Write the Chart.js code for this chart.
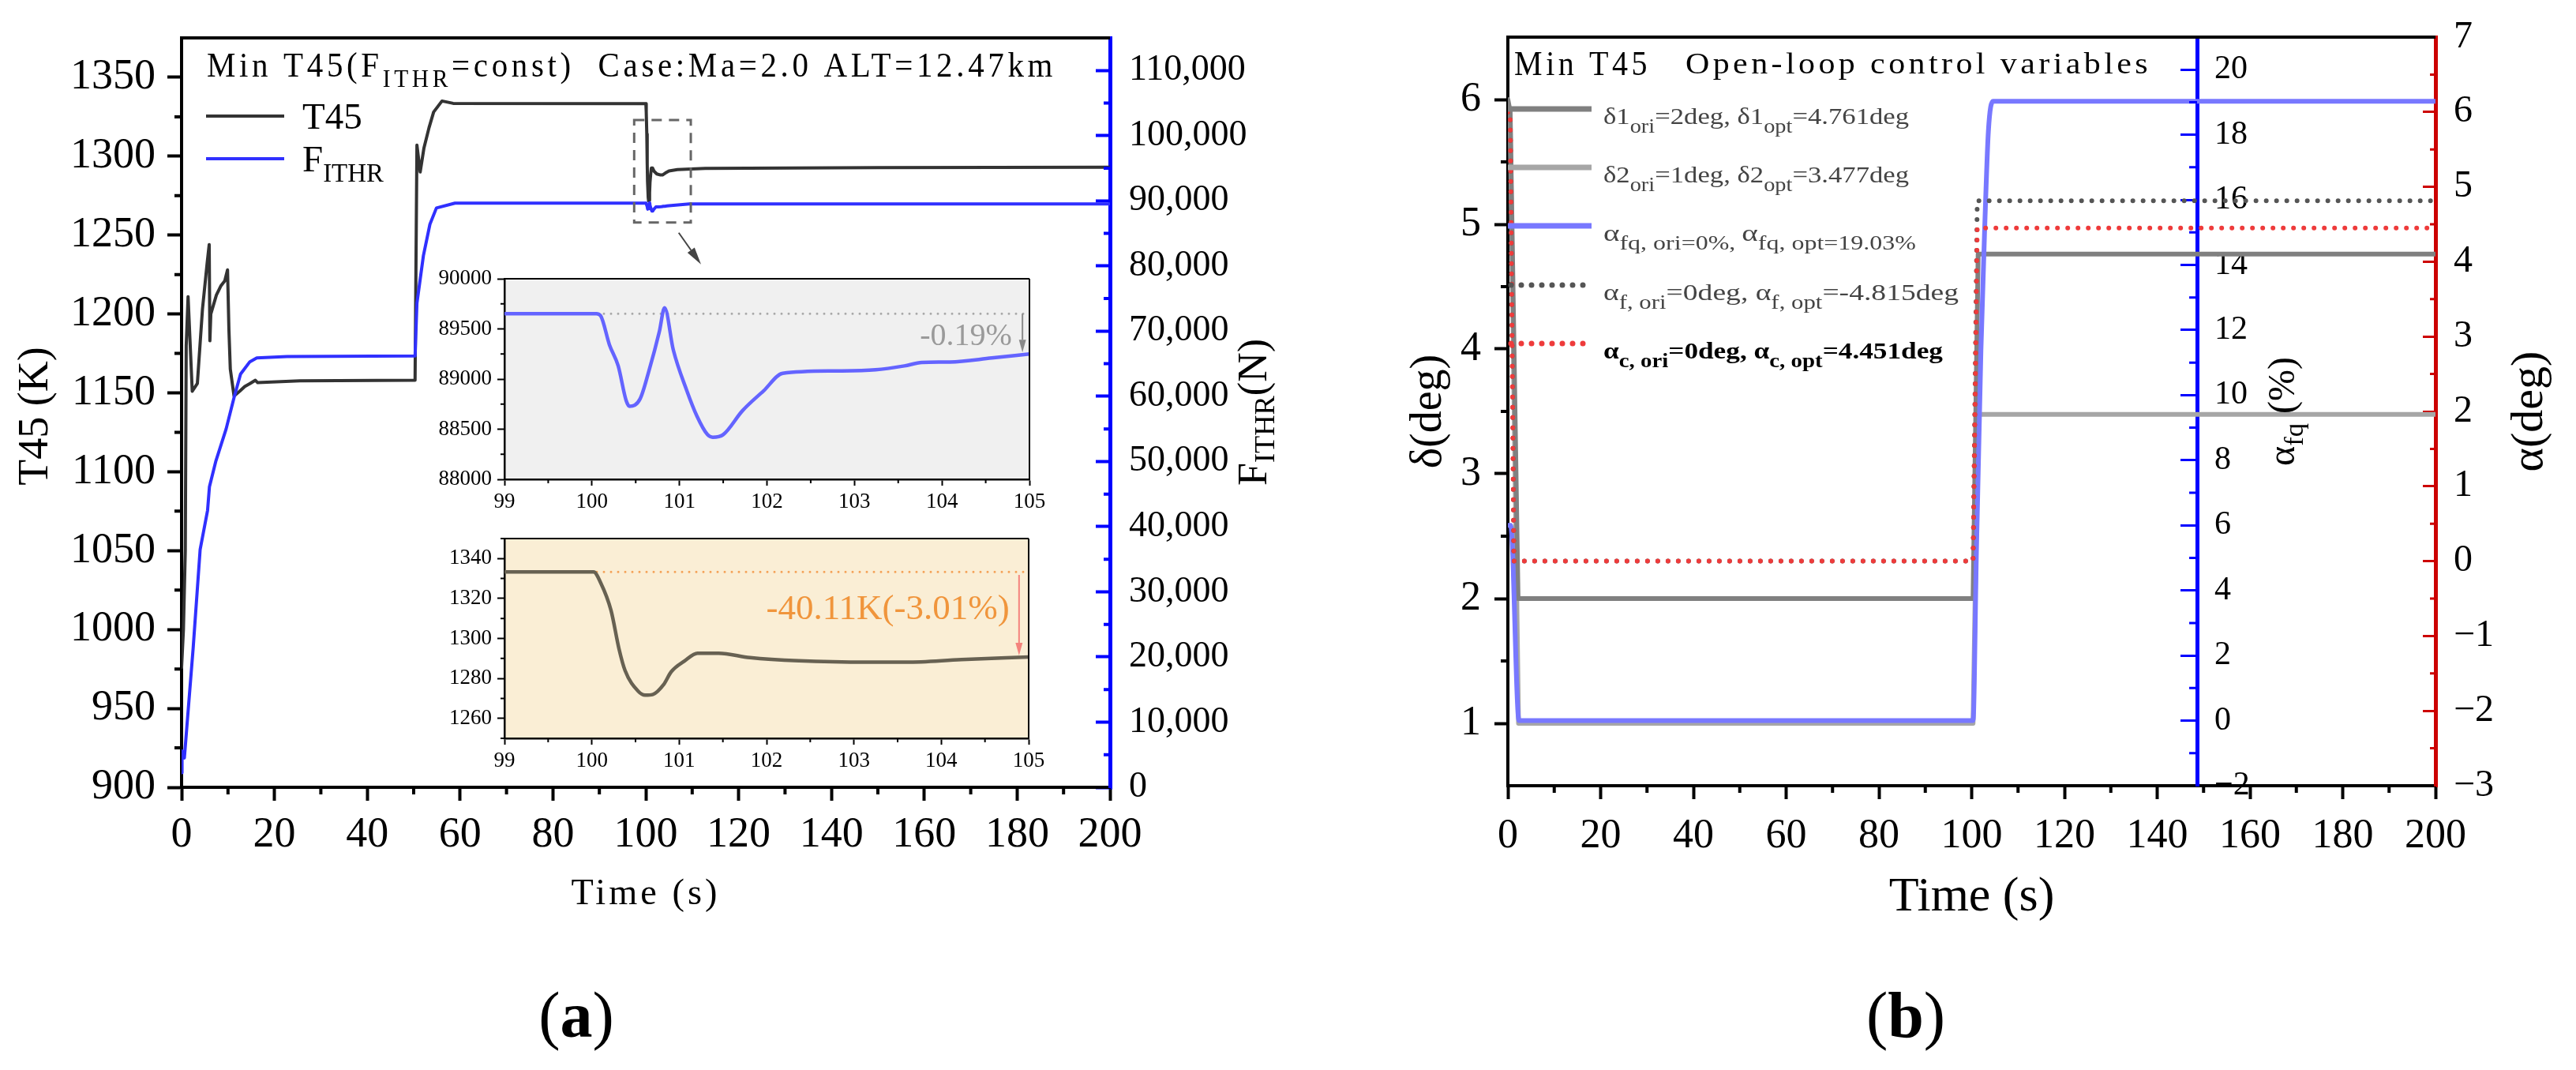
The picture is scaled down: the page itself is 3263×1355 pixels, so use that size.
<!DOCTYPE html>
<html><head><meta charset="utf-8">
<script src="https://cdn.jsdelivr.net/npm/chart.js@4.4.1/dist/chart.umd.min.js"></script>
<style>
html,body{margin:0;padding:0;background:#fff;}
#wrap{position:relative;width:3263px;height:1355px;overflow:hidden;background:#fff;}
canvas{position:absolute;display:block;}
</style></head><body>
<div id="wrap">
<canvas id="cA" width="1700" height="1355" style="left:0px;top:0px;width:1700px;height:1355px"></canvas>
<canvas id="cI1" width="800" height="340" style="left:540px;top:320px;width:800px;height:340px"></canvas>
<canvas id="cI2" width="800" height="340" style="left:540px;top:650px;width:800px;height:340px"></canvas>
<canvas id="cB" width="1563" height="1355" style="left:1700px;top:0px;width:1563px;height:1355px"></canvas>
</div>
<script>
// ================= DATA =================
// tick labels
const TIME_TICKS = [0, 20, 40, 60, 80, 100, 120, 140, 160, 180, 200];
const T45_TICKS = [900, 950, 1000, 1050, 1100, 1150, 1200, 1250, 1300, 1350];
const F_TICKS = [0, 10000, 20000, 30000, 40000, 50000, 60000, 70000, 80000, 90000, 100000, 110000];
const ZOOM_TIME_TICKS = [99, 100, 101, 102, 103, 104, 105];
const ZOOM_F_TICKS = [88000, 88500, 89000, 89500, 90000];
const ZOOM_T45_TICKS = [1260, 1280, 1300, 1320, 1340];
const DELTA_TICKS = [1, 2, 3, 4, 5, 6];
const AFQ_TICKS = [-2, 0, 2, 4, 6, 8, 10, 12, 14, 16, 18, 20];
const ALPHA_TICKS = [-3, -2, -1, 0, 1, 2, 3, 4, 5, 6, 7];

// (a) T45 main curve (K)
const t45EarlyTime = [0, 0.4, 0.8, 1.0, 1.4, 2.3, 3.4, 4.5, 5.5, 5.95, 6.1, 6.3, 7.5, 8.5, 9.3, 9.9, 10.2, 10.5, 11.3, 12.5, 13.6, 14.8, 15.9, 16.4, 25.5, 50.3, 50.7, 51.4, 52.2, 53.3, 54.3, 56.1, 58.5];
const t45EarlyVals = [976, 1000, 1050, 1180, 1211, 1151, 1156, 1203, 1232, 1244, 1183, 1200, 1212, 1218, 1221, 1228, 1190, 1165, 1148, 1151, 1154, 1156, 1158, 1156.5, 1157.7, 1158, 1307, 1290, 1305, 1318, 1328, 1335, 1333.5];
const t45LateTime = [106.8, 112.8, 150, 200];
const t45LateVals = [1291.5, 1292.3, 1292.8, 1293];

// (a) zoomed window 99-105 s
const zoomTimeT45 = [99, 100.02, 100.1, 100.22, 100.31, 100.38, 100.53, 100.61, 100.7, 100.82, 100.91, 101.06, 101.21, 101.45, 101.81, 102.37, 103.17, 103.6, 104.23, 105];
const zoomT45 = [1333.3, 1333.3, 1328, 1314, 1295, 1284, 1273.6, 1271.6, 1272, 1276.8, 1283.4, 1288.7, 1292.6, 1292.6, 1290.4, 1288.8, 1288.1, 1288.1, 1289.4, 1290.7];
const zoomTimeF = [99, 100.05, 100.1, 100.2, 100.3, 100.39, 100.43, 100.55, 100.65, 100.77, 100.83, 100.93, 101.08, 101.2, 101.32, 101.38, 101.5, 101.72, 101.96, 102.18, 102.77, 103.24, 103.57, 103.77, 104.09, 104.57, 105];
const zoomF = [89652, 89652, 89630, 89341, 89131, 88788, 88728, 88802, 89078, 89473, 89710, 89289, 88894, 88630, 88446, 88420, 88446, 88684, 88881, 89057, 89081, 89092, 89131, 89165, 89170, 89210, 89250];
const zoomFRef = 89652;      // dotted reference (N)
const zoomT45Ref = 1333.3;   // dotted reference (K)
const zoomFEnd = 89265;
const zoomT45End = 1291.5;

// (a) thrust main curve (N)
const fEarlyTime = [0, 0.1, 0.6, 2.5, 4.0, 5.6, 6.0, 7.4, 9.6, 11.3, 12.7, 14.7, 16.2, 22.7, 50.3, 50.7, 52.1, 53.5, 54.9, 58.9];
const fEarlyVals = [2250, 5570, 4500, 21400, 36500, 42500, 46100, 50100, 55000, 59800, 63400, 65300, 65900, 66100, 66200, 74300, 81600, 86400, 88900, 89650];
const fLateTime = [109.4, 200];
const fLateVals = [89520, 89520];

// (a) zoom marker box and arrow (data units)
const zoomBoxTime = [97.5, 109.7];
const zoomBoxT45 = [1258, 1323];
const zoomArrowTime = [107.1, 111.9];
const zoomArrowT45 = [1251.5, 1231.5];

// (b) open-loop control variables
const d1Time = [0, 0.5, 2.2, 100.3, 101.4, 200];
const d1Vals = [6.0, 5.9, 2.0, 2.0, 4.761, 4.761];
const d2Time = [0, 0.5, 2.3, 100.3, 101.4, 200];
const d2Vals = [5.9, 5.8, 1.0, 1.0, 3.477, 3.477];
const afqTime = [0, 0.6, 2.4, 100.3, 101.0, 102.0, 102.8, 103.6, 104.6, 200];
const afqVals = [6.0, 6.0, 0, 0, 5.0, 11.4, 15.1, 18.1, 19.03, 19.03];
const afTime = [0, 0.5, 1.3, 100.3, 101.2, 200];
const afVals = [6.0, 6.0, 0, 0, 4.815, 4.815];
const acTime = [0, 0.5, 1.3, 100.3, 101.2, 200];
const acVals = [6.0, 6.0, 0, 0, 4.451, 4.451];
const afqAxisAt = 148.6; // time value where the αfq axis sits

// ================= HELPERS =================
const SERIF = '"Liberation Serif", "Times New Roman", serif';
function pts(ts, vs) { return ts.map((t, i) => ({ x: t, y: vs[i] })); }
function setTicks(list) { return s => { s.ticks = list.map(v => ({ value: v })); }; }
function range(a, b, step) { const r = []; for (let v = a; v <= b + 1e-9; v += step) r.push(+v.toFixed(6)); return r; }
const minusFmt = v => (v < 0 ? '\u2212' + Math.abs(v) : String(v));
function fitV(w) { return s => { if (w != null) s.width = w; s.paddingTop = 0; s.paddingBottom = 0; }; }

function richText(ctx, runs, o) {
  ctx.save();
  ctx.translate(o.x, o.y);
  if (o.rot) ctx.rotate(o.rot);
  if (o.ls) { try { ctx.letterSpacing = o.ls + 'px'; } catch (e) {} }
  const subR = o.subR || 0.72;
  const subDy = (o.subDy != null ? o.subDy : 0.3) * o.size;
  const parts = runs.map(r => {
    const size = r.sub ? o.size * subR : o.size;
    const font = ((r.b || o.b) ? 'bold ' : '') + size.toFixed(1) + 'px ' + (r.fam || o.fam || SERIF);
    ctx.font = font;
    return { t: r.t, font, w: ctx.measureText(r.t).width, dy: r.sub ? subDy : 0, color: r.c || o.color || '#000' };
  });
  const total = parts.reduce((a, p) => a + p.w, 0);
  const sx = o.width ? o.width / total : 1;
  ctx.scale(sx, 1);
  let cx = o.align === 'center' ? -total / 2 : (o.align === 'right' ? -total : 0);
  ctx.textBaseline = o.base || 'alphabetic';
  ctx.textAlign = 'left';
  for (const p of parts) { ctx.font = p.font; ctx.fillStyle = p.color; ctx.fillText(p.t, cx, p.dy); cx += p.w; }
  ctx.restore();
}
function seg(ctx, x1, y1, x2, y2, color, w, dash) {
  ctx.save(); ctx.strokeStyle = color; ctx.lineWidth = w;
  if (dash) { ctx.setLineDash(dash); ctx.lineCap = 'round'; }
  ctx.beginPath(); ctx.moveTo(x1, y1); ctx.lineTo(x2, y2); ctx.stroke(); ctx.restore();
}
function arrow(ctx, x1, y1, x2, y2, color, w, hl, hw) {
  const a = Math.atan2(y2 - y1, x2 - x1);
  const bx = x2 - hl * Math.cos(a), by = y2 - hl * Math.sin(a);
  seg(ctx, x1, y1, bx, by, color, w);
  ctx.save(); ctx.fillStyle = color; ctx.beginPath();
  ctx.moveTo(x2, y2);
  ctx.lineTo(bx + hw / 2 * Math.sin(a), by - hw / 2 * Math.cos(a));
  ctx.lineTo(bx - hw / 2 * Math.sin(a), by + hw / 2 * Math.cos(a));
  ctx.closePath(); ctx.fill(); ctx.restore();
}
function minorTicks(chart, id, vals, at, len, color, w) {
  const sc = chart.scales[id], ctx = chart.ctx;
  ctx.save(); ctx.strokeStyle = color; ctx.lineWidth = w; ctx.beginPath();
  for (const v of vals) {
    const p = sc.getPixelForValue(v);
    if (sc.isHorizontal()) { ctx.moveTo(p, at); ctx.lineTo(p, at + len); }
    else { ctx.moveTo(at, p); ctx.lineTo(at + len, p); }
  }
  ctx.stroke(); ctx.restore();
}

// scale whose labels sit on the right side of an axis placed inside the plot
const LinearBase = Chart.LinearScale || Chart.registry.getScale('linear');
class SideLinear extends LinearBase {
  _computeLabelItems(chartArea) {
    const items = super._computeLabelItems(chartArea);
    const pos = this.options.position;
    if (pos && typeof pos === 'object') {
      const id = Object.keys(pos)[0];
      const px = this.chart.scales[id].getPixelForValue(pos[id]);
      for (const it of items) {
        if (it.options && it.options.translation) {
          it.options.textAlign = 'left';
          it.options.translation[0] = px + 22;
        }
      }
    }
    return items;
  }
}
SideLinear.id = 'sideLinear';
Chart.register(SideLinear);

const common = {
  responsive: false, animation: false, devicePixelRatio: 1, events: [],
  elements: { point: { radius: 0 }, line: { tension: 0, borderJoinStyle: 'round', borderCapStyle: 'round' } },
  plugins: { legend: { display: false }, tooltip: { enabled: false } }
};

// ================= CHART (a) =================
const T45_time = [...t45EarlyTime, ...zoomTimeT45.filter(t => t > 100), ...t45LateTime];
const T45_vals = [...t45EarlyVals, ...zoomT45.filter((v, i) => zoomTimeT45[i] > 100), ...t45LateVals];
const F_time = [...fEarlyTime, ...zoomTimeF.filter(t => t >= 99), ...fLateTime];
const F_vals = [...fEarlyVals, ...zoomF.filter((v, i) => zoomTimeF[i] >= 99), ...fLateVals];

const decorA = {
  id: 'decorA',
  afterDraw(chart) {
    const ctx = chart.ctx, ca = chart.chartArea, sx = chart.scales.x, sy = chart.scales.y;
    seg(ctx, ca.left - 2, ca.top, ca.right, ca.top, '#000', 4);
    minorTicks(chart, 'x', range(10, 190, 20), ca.bottom, 9, '#000', 4);
    minorTicks(chart, 'y', range(925, 1325, 50), ca.left, -9, '#000', 4);
    minorTicks(chart, 'yF', range(5000, 105000, 10000), ca.right, -8, '#0000ff', 4);
    // title
    richText(ctx, [{ t: 'Min T45(F' }, { t: 'ITHR', sub: 1 }, { t: '=const)  Case:Ma=2.0 ALT=12.47km' }],
      { x: 262, y: 97, size: 44, ls: 5, width: 1076, subR: 0.72, subDy: 0.3 });
    // legend
    seg(ctx, 261, 147, 360, 147, '#333333', 4);
    seg(ctx, 261, 201, 360, 201, '#3030ff', 4);
    richText(ctx, [{ t: 'T45' }], { x: 383, y: 163, size: 47 });
    richText(ctx, [{ t: 'F' }, { t: 'ITHR', sub: 1 }], { x: 383, y: 217, size: 47, subR: 0.7, subDy: 0.28 });
    // axis titles
    richText(ctx, [{ t: 'T45 (K)' }], { x: 46, y: 527, size: 54, rot: -Math.PI / 2, align: 'center', base: 'middle' });
    richText(ctx, [{ t: 'F' }, { t: 'ITHR', sub: 1 }, { t: '(N)' }], { x: 1590, y: 522, size: 52, rot: -Math.PI / 2, align: 'center', base: 'middle', subR: 0.7, subDy: 0.28 });
    richText(ctx, [{ t: 'Time (s)' }], { x: 818, y: 1145, size: 46, ls: 4, width: 189, align: 'center' });
    richText(ctx, [{ t: '(' }, { t: 'a', b: 1 }, { t: ')' }], { x: 730, y: 1313, size: 82, align: 'center' });
    // zoom box + arrow
    const bx1 = sx.getPixelForValue(zoomBoxTime[0]), bx2 = sx.getPixelForValue(zoomBoxTime[1]);
    const by1 = sy.getPixelForValue(zoomBoxT45[1]), by2 = sy.getPixelForValue(zoomBoxT45[0]);
    ctx.save(); ctx.strokeStyle = '#666'; ctx.lineWidth = 3; ctx.setLineDash([13, 9]);
    ctx.strokeRect(bx1, by1, bx2 - bx1, by2 - by1); ctx.restore();
    arrow(ctx, sx.getPixelForValue(zoomArrowTime[0]), sy.getPixelForValue(zoomArrowT45[0]),
      sx.getPixelForValue(zoomArrowTime[1]), sy.getPixelForValue(zoomArrowT45[1]), '#444', 2, 22, 11);
  }
};

new Chart(document.getElementById('cA'), {
  type: 'line',
  data: { datasets: [
    { label: 'FITHR', data: pts(F_time, F_vals), yAxisID: 'yF', borderColor: '#3030ff', borderWidth: 4 },
    { label: 'T45', data: pts(T45_time, T45_vals), yAxisID: 'y', borderColor: '#333333', borderWidth: 4 }
  ] },
  options: Object.assign({}, common, {
    layout: { padding: { top: 48, left: 0, right: 0, bottom: 0 } },
    scales: {
      x: { type: 'linear', position: 'bottom', min: 0, max: 200,
        afterBuildTicks: setTicks(TIME_TICKS), afterFit: s => { s.height = 358; },
        grid: { drawOnChartArea: false, drawTicks: true, tickLength: 17, tickWidth: 4, tickColor: '#000' },
        border: { display: true, color: '#000', width: 4 },
        ticks: { font: { family: SERIF, size: 54 }, color: '#000', padding: 11, maxRotation: 0, autoSkip: false, callback: v => String(v) } },
      y: { type: 'linear', position: 'left', min: 900, max: 1375,
        afterBuildTicks: setTicks(T45_TICKS), afterFit: fitV(230),
        grid: { drawOnChartArea: false, drawTicks: true, tickLength: 18, tickWidth: 4, tickColor: '#000' },
        border: { display: true, color: '#000', width: 4 },
        ticks: { font: { family: SERIF, size: 54 }, color: '#000', padding: 15, autoSkip: false, callback: v => String(v) } },
      yF: { type: 'linear', position: 'right', min: 0, max: 115000,
        afterBuildTicks: setTicks(F_TICKS), afterFit: fitV(294),
        grid: { drawOnChartArea: false, drawTicks: true, tickLength: -18, tickWidth: 4, tickColor: '#0000ff' },
        border: { display: true, color: '#0000ff', width: 5 },
        ticks: { font: { family: SERIF, size: 46 }, color: '#000', padding: 42, autoSkip: false,
          callback: v => (v === 0 ? '0' : Number(v).toLocaleString('en-US')) } }
    }
  }),
  plugins: [decorA]
});

// ================= INSETS =================
function insetDecor(bg, extra) {
  return {
    id: 'insetDecor',
    beforeDraw(chart) {
      const ctx = chart.ctx, ca = chart.chartArea;
      ctx.save(); ctx.fillStyle = bg; ctx.fillRect(ca.left, ca.top, ca.right - ca.left, ca.bottom - ca.top); ctx.restore();
    },
    afterDraw(chart) {
      const ctx = chart.ctx, ca = chart.chartArea;
      seg(ctx, ca.left, ca.top, ca.right, ca.top, '#000', 2);
      seg(ctx, ca.right, ca.top, ca.right, ca.bottom + 1, '#000', 2);
      minorTicks(chart, 'x', range(99.5, 104.5, 1), ca.bottom, 5, '#000', 2);
      extra(chart, ctx, ca);
    }
  };
}
function insetScales(yMin, yMax, yTicks, xH) {
  return {
    x: { type: 'linear', position: 'bottom', min: 99, max: 105,
      afterBuildTicks: setTicks(ZOOM_TIME_TICKS), afterFit: s => { s.height = xH; },
      grid: { drawOnChartArea: false, drawTicks: true, tickLength: 8, tickWidth: 2, tickColor: '#000' },
      border: { display: true, color: '#000', width: 2.5 },
      ticks: { font: { family: SERIF, size: 27 }, color: '#000', padding: 5, maxRotation: 0, autoSkip: false, callback: v => String(v) } },
    y: { type: 'linear', position: 'left', min: yMin, max: yMax,
      afterBuildTicks: setTicks(yTicks), afterFit: fitV(99),
      grid: { drawOnChartArea: false, drawTicks: true, tickLength: 9, tickWidth: 2, tickColor: '#000' },
      border: { display: true, color: '#000', width: 2.5 },
      ticks: { font: { family: SERIF, size: 27 }, color: '#000', padding: 7, autoSkip: false, callback: v => String(v) } }
  };
}

new Chart(document.getElementById('cI1'), {
  type: 'line',
  data: { datasets: [
    { data: pts(zoomTimeF, zoomF), borderColor: '#6464ff', borderWidth: 4.5, cubicInterpolationMode: 'monotone' },
    { data: pts([99, 105], [zoomFRef, zoomFRef]), borderColor: '#a8a8a8', borderWidth: 3, borderDash: [0, 9], borderCapStyle: 'round' }
  ] },
  options: Object.assign({}, common, {
    layout: { padding: { top: 33, left: 0, right: 36, bottom: 0 } },
    scales: insetScales(88000, 90000, ZOOM_F_TICKS, 53)
  }),
  plugins: [insetDecor('#f0f0f0', (chart, ctx, ca) => {
    const sx = chart.scales.x, sy = chart.scales.y;
    minorTicks(chart, 'y', range(88250, 89750, 500), ca.left, -5, '#000', 2);
    const ax = sx.getPixelForValue(104.92);
    arrow(ctx, ax, sy.getPixelForValue(zoomFRef), ax, sy.getPixelForValue(zoomFEnd), '#8a8a8a', 2, 16, 9);
    richText(ctx, [{ t: '-0.19%' }], { x: sx.getPixelForValue(104.8), y: sy.getPixelForValue(89418), size: 40, align: 'right', base: 'middle', color: '#9a9a9a' });
  })]
});

new Chart(document.getElementById('cI2'), {
  type: 'line',
  data: { datasets: [
    { data: pts(zoomTimeT45, zoomT45), borderColor: '#676152', borderWidth: 4.5, cubicInterpolationMode: 'monotone' },
    { data: pts([99, 105], [zoomT45Ref, zoomT45Ref]), borderColor: '#f4a258', borderWidth: 3, borderDash: [0, 9], borderCapStyle: 'round' }
  ] },
  options: Object.assign({}, common, {
    layout: { padding: { top: 32, left: 0, right: 37, bottom: 0 } },
    scales: insetScales(1250, 1350, ZOOM_T45_TICKS, 55)
  }),
  plugins: [insetDecor('#faeed5', (chart, ctx, ca) => {
    const sx = chart.scales.x, sy = chart.scales.y;
    minorTicks(chart, 'y', range(1250, 1350, 20), ca.left, -5, '#000', 2);
    const ax = sx.getPixelForValue(104.89);
    arrow(ctx, ax, sy.getPixelForValue(zoomT45Ref - 1.5), ax, sy.getPixelForValue(zoomT45End), '#f4837d', 2, 16, 9);
    richText(ctx, [{ t: '-40.11K(-3.01%)' }], { x: sx.getPixelForValue(104.78), y: sy.getPixelForValue(1314.4), size: 45, align: 'right', base: 'middle', color: '#f0953c' });
  })]
});

// ================= CHART (b) =================
const decorB = {
  id: 'decorB',
  afterDraw(chart) {
    const ctx = chart.ctx, ca = chart.chartArea;
    seg(ctx, ca.left - 2, ca.top, ca.right, ca.top, '#000', 4);
    const fqX = chart.scales.x.getPixelForValue(afqAxisAt);
    minorTicks(chart, 'x', range(10, 190, 20), ca.bottom, 9, '#000', 4);
    minorTicks(chart, 'yD', range(1.5, 5.5, 1), ca.left, -9, '#000', 4);
    minorTicks(chart, 'yFq', range(-1, 19, 2), fqX, -10, '#0000ff', 3);
    minorTicks(chart, 'yA', range(-2.5, 6.5, 1), ca.right, -7, '#cc0000', 3);
    // title
    richText(ctx, [{ t: 'Min T45' }], { x: 218, y: 95, size: 44, ls: 5, width: 173 });
    richText(ctx, [{ t: 'Open-loop control variables' }], { x: 435, y: 93, size: 38, ls: 4, width: 590 });
    // legend
    const ly = [138, 212, 286, 361, 435];
    const lx1 = ca.left, lx2 = ca.left + 106, tx = ca.left + 121;
    seg(ctx, lx1, ly[0], lx2, ly[0], '#808080', 7);
    seg(ctx, lx1, ly[1], lx2, ly[1], '#a6a6a6', 7);
    seg(ctx, lx1, ly[2], lx2, ly[2], '#7878ff', 7);
    seg(ctx, lx1 + 4, ly[3], lx2, ly[3], '#555555', 7, [0, 13]);
    seg(ctx, lx1 + 4, ly[4], lx2, ly[4], '#ee3b3b', 7, [0, 13]);
    const lo = { size: 30, color: '#444', subR: 0.82, subDy: 0.36 };
    richText(ctx, [{ t: 'δ1' }, { t: 'ori', sub: 1 }, { t: '=2deg, δ1' }, { t: 'opt', sub: 1 }, { t: '=4.761deg' }], Object.assign({ x: tx, y: ly[0] + 19, width: 387 }, lo));
    richText(ctx, [{ t: 'δ2' }, { t: 'ori', sub: 1 }, { t: '=1deg, δ2' }, { t: 'opt', sub: 1 }, { t: '=3.477deg' }], Object.assign({ x: tx, y: ly[1] + 19, width: 387 }, lo));
    richText(ctx, [{ t: 'α' }, { t: 'fq, ori=0%, ', sub: 1 }, { t: 'α' }, { t: 'fq, opt=19.03%', sub: 1 }], Object.assign({ x: tx, y: ly[2] + 19, width: 396 }, lo));
    richText(ctx, [{ t: 'α' }, { t: 'f, ori', sub: 1 }, { t: '=0deg, α' }, { t: 'f, opt', sub: 1 }, { t: '=-4.815deg' }], Object.assign({ x: tx, y: ly[3] + 19, width: 450 }, lo));
    richText(ctx, [{ t: 'α' }, { t: 'c, ori', sub: 1 }, { t: '=0deg, α' }, { t: 'c, opt', sub: 1 }, { t: '=4.451deg' }], Object.assign({ x: tx, y: ly[4] + 19, width: 430 }, lo, { color: '#000', b: 1 }));
    // axis titles
    richText(ctx, [{ t: 'δ(deg)' }], { x: 110, y: 521, size: 56, rot: -Math.PI / 2, align: 'center', base: 'middle' });
    richText(ctx, [{ t: 'α' }, { t: 'fq', sub: 1 }, { t: ' (%)' }], { x: fqX + 110, y: 521, size: 48, rot: -Math.PI / 2, align: 'center', base: 'middle', subR: 0.72, subDy: 0.3 });
    richText(ctx, [{ t: 'α(deg)' }], { x: 1505, y: 521, size: 58, rot: -Math.PI / 2, align: 'center', base: 'middle' });
    richText(ctx, [{ t: 'Time (s)' }], { x: (ca.left + ca.right) / 2, y: 1153, size: 62, align: 'center' });
    richText(ctx, [{ t: '(' }, { t: 'b', b: 1 }, { t: ')' }], { x: 714, y: 1313, size: 82, align: 'center' });
  }
};

new Chart(document.getElementById('cB'), {
  type: 'line',
  data: { datasets: [
    { label: 'ac', data: pts(acTime, acVals), yAxisID: 'yA', borderColor: '#ee3b3b', borderWidth: 6, borderDash: [0, 13], borderCapStyle: 'round' },
    { label: 'af', data: pts(afTime, afVals), yAxisID: 'yA', borderColor: '#555555', borderWidth: 6, borderDash: [0, 13], borderCapStyle: 'round' },
    { label: 'afq', data: pts(afqTime, afqVals), yAxisID: 'yFq', borderColor: '#7878ff', borderWidth: 6, cubicInterpolationMode: 'monotone' },
    { label: 'd1', data: pts(d1Time, d1Vals), yAxisID: 'yD', borderColor: '#808080', borderWidth: 6 },
    { label: 'd2', data: pts(d2Time, d2Vals), yAxisID: 'yD', borderColor: '#a6a6a6', borderWidth: 6 }
  ] },
  options: Object.assign({}, common, {
    layout: { padding: { top: 47, left: 0, right: 0, bottom: 0 } },
    scales: {
      x: { type: 'linear', position: 'bottom', min: 0, max: 200,
        afterBuildTicks: setTicks(TIME_TICKS), afterFit: s => { s.height = 360; },
        grid: { drawOnChartArea: false, drawTicks: true, tickLength: 17, tickWidth: 4, tickColor: '#000' },
        border: { display: true, color: '#000', width: 4 },
        ticks: { font: { family: SERIF, size: 52 }, color: '#000', padding: 16, maxRotation: 0, autoSkip: false, callback: v => String(v) } },
      yD: { type: 'linear', axis: 'y', position: 'left', min: 0.5, max: 6.5,
        afterBuildTicks: setTicks(DELTA_TICKS), afterFit: fitV(210),
        grid: { drawOnChartArea: false, drawTicks: true, tickLength: 17, tickWidth: 4, tickColor: '#000' },
        border: { display: true, color: '#000', width: 4 },
        ticks: { font: { family: SERIF, size: 52 }, color: '#000', padding: 17, autoSkip: false, callback: v => String(v) } },
      yFq: { type: 'sideLinear', axis: 'y', position: { x: afqAxisAt }, min: -2, max: 21,
        afterBuildTicks: setTicks(AFQ_TICKS), afterFit: fitV(null),
        grid: { drawOnChartArea: false, drawTicks: true, tickLength: 19, tickWidth: 3, tickColor: '#0000ff' },
        border: { display: true, color: '#0000ff', width: 5 },
        ticks: { font: { family: SERIF, size: 42 }, color: '#000', padding: 6, autoSkip: false, callback: minusFmt } },
      yA: { type: 'linear', axis: 'y', position: 'right', min: -3, max: 7,
        afterBuildTicks: setTicks(ALPHA_TICKS), afterFit: fitV(178),
        grid: { drawOnChartArea: false, drawTicks: true, tickLength: -16, tickWidth: 3, tickColor: '#cc0000' },
        border: { display: true, color: '#cc0000', width: 5 },
        ticks: { font: { family: SERIF, size: 48 }, color: '#000', padding: 39, autoSkip: false, callback: minusFmt } }
    }
  }),
  plugins: [decorB]
});
</script>
</body></html>
